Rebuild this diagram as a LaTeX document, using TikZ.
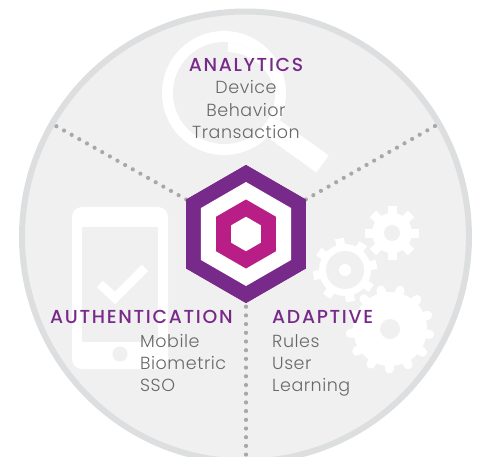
\documentclass[tikz,border=0pt]{standalone}
\usepackage{fontspec}
\usetikzlibrary{shapes.geometric}
\setmainfont{Poppins}[UprightFont=* Light,LetterSpace=3]
\newfontfamily\headfont{Poppins}[UprightFont=* Medium,LetterSpace=9]
\definecolor{bggray}{HTML}{F0F0F0}
\definecolor{ringgray}{HTML}{DDDEDF}
\definecolor{hexpurple}{HTML}{782A8A}
\definecolor{hexmagenta}{HTML}{B81E85}
\definecolor{txtgray}{HTML}{686868}
\definecolor{dotgray}{HTML}{A8A8A8}
\tikzset{
  hexa/.style={regular polygon,regular polygon sides=6,shape border rotate=-30,inner sep=0pt,outer sep=0pt,fill=#1,draw=none},
  dots/.style={draw=dotgray,line width=4.2pt,line cap=round,dash pattern=on 0pt off 8.77pt},
  head/.style={anchor=base,inner sep=0pt,text=hexpurple,font=\headfont\fontsize{18.8}{18.8}\selectfont},
  body/.style={anchor=base,inner sep=0pt,text=txtgray,font=\fontsize{17.5}{17.5}\selectfont},
}
\newcommand{\gearteeth}[6]{% cx cy count offset rin rout
  \foreach \k in {1,...,#3}{
    \draw[white,line width=9pt] (#1,#2) ++({#4+\k*360/#3}:#5 and -#5) -- ++({#4+\k*360/#3}:{#6-#5} and {-(#6-#5)});
  }}
\begin{document}
\begin{tikzpicture}[x=1pt,y=-1pt]
\useasboundingbox (0,0) rectangle (479,457);
\clip (0,0) rectangle (479,457);
% big circle
\fill[bggray,draw=ringgray,line width=6pt] (245.5,236.5) ellipse[x radius=223.5pt,y radius=225pt];
% magnifier
\fill[white] (224,93) circle[radius=62pt];
\fill[bggray] (224,93) circle[radius=51pt];
\begin{scope}
  \clip (228,30) rectangle (300,160);
  \clip (224,93) circle[radius=51pt];
  \fill[white] (224,93) circle[radius=51pt];
  \fill[bggray] (226,102) circle[radius=50pt];
\end{scope}
\draw[white,line width=21pt] (267,124) -- (322.5,164);
% phone
\fill[white,rounded corners=10pt] (72,207) rectangle (168,369);
\fill[bggray] (82,227) rectangle (158,342);
\fill[bggray] (120,354) circle[radius=7.5pt];
\draw[white,line width=9pt] (100,284) -- (115,298) -- (145,268);
% gears
\gearteeth{392}{233}{8}{0}{15}{27}
\fill[white] (392,233) circle[radius=20pt];
\fill[bggray] (392,233) circle[radius=8pt];
\gearteeth{345}{270}{8}{10}{18}{32}
\fill[white] (345,270) circle[radius=26pt];
\fill[bggray] (345,270) circle[radius=19pt];
\fill[white] (345,270) circle[radius=6pt];
\foreach \k in {1,...,13}{
  \draw[white,line width=9pt,line cap=round] (390,329) ++({20+\k*360/13}:30 and -30) -- ++({20+\k*360/13}:10 and -10);
}
\fill[white] (390,329) circle[radius=37pt];
\fill[bggray] (390,329) circle[radius=10pt];
% connectors
\node[hexa=hexpurple,minimum size=138pt] (hexA) at (246,234) {};
\coordinate (endL) at (55.8,125.9);
\coordinate (endR) at (435.5,125.7);
\coordinate (endB) at (246,460);
\draw[dots] (hexA.corner 3) -- (endL);
\draw[dots,dash pattern=on 0pt off 8.74pt] (hexA.corner 1) -- (endR);
\draw[dots,dash pattern=on 0pt off 8.7pt] ([yshift=-3.7pt]hexA.corner 5) -- (endB);
% hexagons
\node[hexa=hexpurple,minimum size=138pt] (hexA2) at (246,234) {};
\node[hexa=white,minimum size=104pt] (hexB) at (246,234) {};
\node[hexa=hexmagenta,minimum size=69pt] (hexC) at (246,234) {};
\node[hexa=white,minimum size=34.5pt] (hexD) at (246,234) {};
% text
\node[head] (tA) at (246,72) {ANALYTICS};
\node[body] (tA1) at (246,94) {Device};
\node[body] (tA2) at (246,116.5) {Behavior};
\node[body] (tA3) at (246,138.5) {Transaction};
\node[head,anchor=base west] (tB) at (50,323) {AUTHENTICATION};
\node[body,anchor=base west] (tB1) at (140,347) {Mobile};
\node[body,anchor=base west] (tB2) at (140,369) {Biometric};
\node[body,anchor=base west] (tB3) at (140,391) {SSO};
\node[head,anchor=base west] (tC) at (272,323) {ADAPTIVE};
\node[body,anchor=base west] (tC1) at (272,347) {Rules};
\node[body,anchor=base west] (tC2) at (272,369) {User};
\node[body,anchor=base west] (tC3) at (272,391) {Learning};
\end{tikzpicture}
\end{document}
